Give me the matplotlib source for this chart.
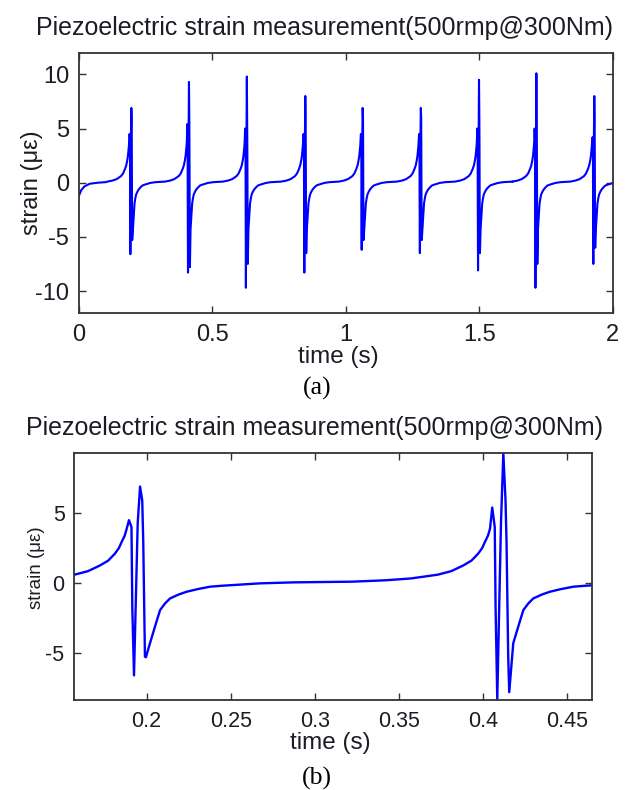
import numpy as np
import matplotlib.pyplot as plt

# ---------------------------------------------------------------
# Data
# ---------------------------------------------------------------
# one event per shaft turn: time of the positive peak and its extremes
spike_t = [0.1961, 0.4121, 0.629, 0.848, 1.063, 1.281, 1.499, 1.714, 1.931]
spike_hi = [6.9, 9.3, 9.8, 8.0, 6.9, 6.9, 9.5, 10.1, 8.0]
spike_lo = [-6.6, -8.3, -9.7, -8.3, -6.2, -6.5, -8.1, -9.7, -7.5]
spike_lo2 = [-5.3, -7.8, -7.5, -6.5, -5.3, -5.3, -6.5, -7.5, -6.0]
spike_pre = [4.5, 5.4, 5.0, 4.5, 4.5, 4.5, 5.0, 5.0, 4.2]

# shape around each event, offsets in s from the peak
shape_dt = [-0.090, -0.070, -0.055, -0.039, -0.031, -0.024, -0.019, -0.015,
            -0.0126, -0.0109, -0.0091, -0.0079, -0.0066, -0.0051, -0.0046,
            -0.0036, -0.0014, 0.0, 0.0013, 0.0019, 0.0029, 0.0035,
            0.0059, 0.0089, 0.0119, 0.0149, 0.0178, 0.0229, 0.0277,
            0.0339, 0.0416, 0.0489, 0.0554, 0.0639, 0.0713, 0.0911, 0.1250]
shape_v = [0.1, 0.2, 0.33, 0.6, 0.85, 1.25, 1.6, 2.1,
           2.5, 2.95, 3.4, 3.9, 'pre', 4.0, -1.8,
           'lo', 4.3, 'hi', 5.9, 2.96, -5.26, 'lo2',
           -4.3, -3.1, -1.93, -1.45, -1.1, -0.82, -0.62,
           -0.44, -0.26, -0.19, -0.14, -0.07, -0.02, 0.05, 0.1]

# start of the record
lead_t = [0.0, 0.008, 0.02, 0.04, 0.07, 0.10]
lead_v = [-1.2, -0.7, -0.35, -0.1, 0.0, 0.05]

# assemble the trace
t = list(lead_t)
v = list(lead_v)
for c, hi, lo, lo2, pre in zip(spike_t, spike_hi, spike_lo, spike_lo2, spike_pre):
    slots = {'hi': hi, 'lo': lo, 'lo2': lo2, 'pre': pre}
    for dt, val in zip(shape_dt, shape_v):
        t.append(c + dt)
        v.append(slots[val] if isinstance(val, str) else val)
t = np.array(t)
v = np.array(v)

title = 'Piezoelectric strain measurement(500rmp@300Nm)'
W, H = 630, 790
txt_col = '#1c1c24'

plt.rcParams['font.family'] = ['Liberation Sans', 'DejaVu Sans']
plt.rcParams['axes.unicode_minus'] = False

fig = plt.figure(figsize=(W / 100, H / 100), dpi=100)


def px_axes(x0, y0, x1, y1):
    return fig.add_axes([x0 / W, 1 - y1 / H, (x1 - x0) / W, (y1 - y0) / H])


def style(ax, fs):
    ax.tick_params(direction='in', length=5, width=1.0, top=True, right=True,
                   labelsize=fs, colors='#333333', labelcolor=txt_col)
    ax.tick_params(axis='x', pad=8)
    ax.tick_params(axis='y', pad=7)
    for s in ax.spines.values():
        s.set_linewidth(1.3)
        s.set_color('#333333')


# (a) full record
ax1 = px_axes(79, 52.7, 612.7, 312.7)
ax1.plot(t, v, color='#0000ff', lw=1.5)
ax1.set_xlim(0, 2)
ax1.set_ylim(-12, 12)
ax1.set_xticks([0, 0.5, 1, 1.5, 2])
ax1.set_xticklabels(['0', '0.5', '1', '1.5', '2'])
ax1.set_yticks([-10, -5, 0, 5, 10])
style(ax1, 17)
fig.text(324.5 / W, 1 - 28 / H, title, ha='center', va='center', fontsize=18, color=txt_col)
fig.text(31.7 / W, 1 - 183 / H, 'strain (\u03bc\u03b5)', rotation=90, ha='center', va='center',
         fontsize=17, color=txt_col)
fig.text(338 / W, 1 - 357 / H, 'time (s)', ha='center', va='center', fontsize=17.5, color=txt_col)
fig.text(317 / W, 1 - 388 / H, '(a)', ha='center', va='center', fontsize=18.5,
         family='Liberation Serif', color='black')

# (b) zoom on two events
ax2 = px_axes(74.3, 453, 592.3, 700)
ax2.plot(t, v, color='#0000ff', lw=1.7)
ax2.set_xlim(0.157, 0.465)
ax2.set_ylim(-8.36, 9.3)
ax2.set_xticks([0.2, 0.25, 0.3, 0.35, 0.4, 0.45])
ax2.set_xticklabels(['0.2', '0.25', '0.3', '0.35', '0.4', '0.45'])
ax2.set_yticks([-5, 0, 5])
style(ax2, 15.5)
fig.text(314.5 / W, 1 - 428 / H, title, ha='center', va='center', fontsize=18, color=txt_col)
fig.text(36.7 / W, 1 - 568 / H, 'strain (\u03bc\u03b5)', rotation=90, ha='center', va='center',
         fontsize=13.5, color=txt_col)
fig.text(330 / W, 1 - 743 / H, 'time (s)', ha='center', va='center', fontsize=17.5, color=txt_col)
fig.text(317 / W, 1 - 778 / H, '(b)', ha='center', va='center', fontsize=18.5,
         family='Liberation Serif', color='black')

plt.savefig('out.png', dpi=100)
